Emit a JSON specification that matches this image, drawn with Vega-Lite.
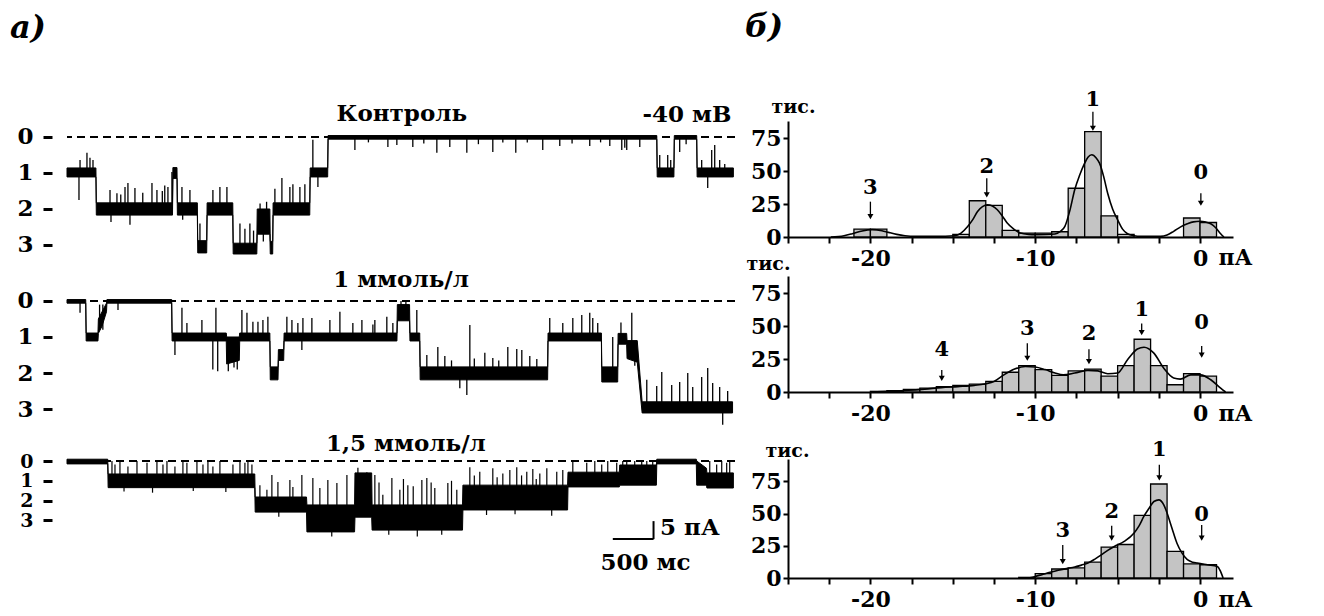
{
  "$schema": "https://vega.github.io/schema/vega-lite/v6.json",
  "background": "white",
  "padding": {"left": 10, "top": 11, "right": 5, "bottom": 5},
  "bounds": "flush",
  "columns": 2,
  "align": "each",
  "spacing": {"row": 25, "column": 53},
  "config": {
    "view": {"stroke": null},
    "axis": {"grid": false, "tickCount": 20, "labelFont": "DejaVu Serif", "labelFontWeight": "bold", "labelColor": "black", "titleFont": "DejaVu Serif", "titleFontWeight": "bold", "titleColor": "black", "domainColor": "black", "tickColor": "black"},
    "text": {"font": "DejaVu Serif", "fontWeight": "bold", "color": "black"}
  },
  "datasets": {
    "trace": [
      {"tr":1,"t":0,"lo":-11.1,"hi":-8.6},{"tr":1,"t":0.355,"lo":-11.1,"hi":-8.6},{"tr":1,"t":0.36,"lo":-21.7,"hi":-18.3},{"tr":1,"t":1.295,"lo":-21.7,"hi":-18.3},{"tr":1,"t":1.3,"lo":-11.5,"hi":-8.5},{"tr":1,"t":1.35,"lo":-11.5,"hi":-8.5},{"tr":1,"t":1.355,"lo":-21.7,"hi":-18.3},{"tr":1,"t":1.6,"lo":-21.7,"hi":-18.3},{"tr":1,"t":1.605,"lo":-32.2,"hi":-28.8},{"tr":1,"t":1.715,"lo":-32.2,"hi":-28.8},{"tr":1,"t":1.72,"lo":-21.7,"hi":-18.3},{"tr":1,"t":2.035,"lo":-21.7,"hi":-18.3},{"tr":1,"t":2.04,"lo":-32.5,"hi":-29.5},{"tr":1,"t":2.33,"lo":-32.5,"hi":-29.5},{"tr":1,"t":2.335,"lo":-27,"hi":-20},{"tr":1,"t":2.49,"lo":-27,"hi":-20},{"tr":1,"t":2.495,"lo":-32.5,"hi":-29},{"tr":1,"t":2.525,"lo":-32.5,"hi":-29},{"tr":1,"t":2.53,"lo":-21.7,"hi":-18.3},{"tr":1,"t":2.98,"lo":-21.7,"hi":-18.3},{"tr":1,"t":2.985,"lo":-11.1,"hi":-8.6},{"tr":1,"t":3.2,"lo":-11.1,"hi":-8.6},{"tr":1,"t":3.205,"lo":-0.6,"hi":0.4},{"tr":1,"t":7.24,"lo":-0.6,"hi":0.4},{"tr":1,"t":7.245,"lo":-11.1,"hi":-8.6},{"tr":1,"t":7.45,"lo":-11.1,"hi":-8.6},{"tr":1,"t":7.455,"lo":-0.6,"hi":0.4},{"tr":1,"t":7.73,"lo":-0.6,"hi":0.4},{"tr":1,"t":7.735,"lo":-11.1,"hi":-8.6},{"tr":1,"t":8.18,"lo":-11.1,"hi":-8.6},
      {"tr":2,"t":0,"lo":-0.6,"hi":0.4},{"tr":2,"t":0.23,"lo":-0.6,"hi":0.4},{"tr":2,"t":0.235,"lo":-11.1,"hi":-8.9},{"tr":2,"t":0.38,"lo":-11.1,"hi":-8.9},{"tr":2,"t":0.385,"lo":-9,"hi":-5},{"tr":2,"t":0.43,"lo":-7,"hi":-3},{"tr":2,"t":0.485,"lo":-3,"hi":-0.6},{"tr":2,"t":0.49,"lo":-0.6,"hi":0.4},{"tr":2,"t":1.285,"lo":-0.6,"hi":0.4},{"tr":2,"t":1.29,"lo":-11.1,"hi":-8.9},{"tr":2,"t":1.955,"lo":-11.1,"hi":-8.9},{"tr":2,"t":1.96,"lo":-17.5,"hi":-10},{"tr":2,"t":2.115,"lo":-16.5,"hi":-10},{"tr":2,"t":2.12,"lo":-11.1,"hi":-8.9},{"tr":2,"t":2.49,"lo":-11.1,"hi":-8.9},{"tr":2,"t":2.495,"lo":-21.9,"hi":-18.3},{"tr":2,"t":2.59,"lo":-21.9,"hi":-18.3},{"tr":2,"t":2.595,"lo":-16.5,"hi":-13.5},{"tr":2,"t":2.66,"lo":-16.5,"hi":-13.5},{"tr":2,"t":2.665,"lo":-11.1,"hi":-8.9},{"tr":2,"t":4.05,"lo":-11.1,"hi":-8.9},{"tr":2,"t":4.055,"lo":-5.5,"hi":-1},{"tr":2,"t":4.205,"lo":-5.5,"hi":-1},{"tr":2,"t":4.21,"lo":-11.1,"hi":-8.9},{"tr":2,"t":4.33,"lo":-11.1,"hi":-8.9},{"tr":2,"t":4.335,"lo":-21.9,"hi":-18.3},{"tr":2,"t":5.9,"lo":-21.9,"hi":-18.3},{"tr":2,"t":5.905,"lo":-11.1,"hi":-8.9},{"tr":2,"t":6.56,"lo":-11.1,"hi":-8.9},{"tr":2,"t":6.565,"lo":-22.5,"hi":-18.3},{"tr":2,"t":6.76,"lo":-22.5,"hi":-18.3},{"tr":2,"t":6.765,"lo":-12,"hi":-9},{"tr":2,"t":6.87,"lo":-12,"hi":-9},{"tr":2,"t":6.875,"lo":-16,"hi":-11},{"tr":2,"t":7.0,"lo":-17,"hi":-11},{"tr":2,"t":7.06,"lo":-31.1,"hi":-28},{"tr":2,"t":8.17,"lo":-31.1,"hi":-28},
      {"tr":3,"t":0,"lo":-0.8,"hi":0.5},{"tr":3,"t":0.5,"lo":-0.8,"hi":0.5},{"tr":3,"t":0.505,"lo":-7.4,"hi":-3.6},{"tr":3,"t":2.305,"lo":-7.4,"hi":-3.6},{"tr":3,"t":2.31,"lo":-14.2,"hi":-10},{"tr":3,"t":2.94,"lo":-14.2,"hi":-10},{"tr":3,"t":2.945,"lo":-19.7,"hi":-12.2},{"tr":3,"t":3.53,"lo":-19.7,"hi":-12.2},{"tr":3,"t":3.535,"lo":-15.6,"hi":-3.3},{"tr":3,"t":3.74,"lo":-15.6,"hi":-3.3},{"tr":3,"t":3.745,"lo":-19.2,"hi":-12.2},{"tr":3,"t":4.855,"lo":-19.2,"hi":-12.2},{"tr":3,"t":4.86,"lo":-13.6,"hi":-6.7},{"tr":3,"t":6.145,"lo":-13.6,"hi":-6.7},{"tr":3,"t":6.15,"lo":-7.2,"hi":-3.1},{"tr":3,"t":6.78,"lo":-7.2,"hi":-3.1},{"tr":3,"t":6.785,"lo":-6.7,"hi":-1.1},{"tr":3,"t":7.235,"lo":-6.7,"hi":-1.1},{"tr":3,"t":7.24,"lo":-0.8,"hi":0.5},{"tr":3,"t":7.725,"lo":-0.8,"hi":0.5},{"tr":3,"t":7.73,"lo":-6.7,"hi":0},{"tr":3,"t":7.85,"lo":-6.7,"hi":-2},{"tr":3,"t":7.855,"lo":-7.5,"hi":-3.3},{"tr":3,"t":8.18,"lo":-7.5,"hi":-3.3}
    ],
    "spikes": [
      {"tr":1,"t":0.147,"a":-10,"b":-17.5},{"tr":1,"t":0.16,"a":-10,"b":-6.4},{"tr":1,"t":0.245,"a":-10,"b":-4.4},{"tr":1,"t":0.282,"a":-10,"b":-5.8},{"tr":1,"t":0.319,"a":-10,"b":-6.4},{"tr":1,"t":0.528,"a":-20,"b":-14.7},{"tr":1,"t":0.54,"a":-20,"b":-23.6},{"tr":1,"t":0.613,"a":-20,"b":-15.6},{"tr":1,"t":0.66,"a":-20,"b":-16},{"tr":1,"t":0.712,"a":-20,"b":-13.9},{"tr":1,"t":0.748,"a":-20,"b":-12.8},{"tr":1,"t":0.773,"a":-20,"b":-24.4},{"tr":1,"t":0.834,"a":-20,"b":-14.2},{"tr":1,"t":0.93,"a":-20,"b":-15.5},{"tr":1,"t":1.043,"a":-20,"b":-12.8},{"tr":1,"t":1.104,"a":-20,"b":-14.7},{"tr":1,"t":1.17,"a":-20,"b":-15},{"tr":1,"t":1.2,"a":-20,"b":-13.5},{"tr":1,"t":1.239,"a":-20,"b":-13.9},{"tr":1,"t":1.288,"a":-20,"b":-9.7},{"tr":1,"t":1.411,"a":-20,"b":-13.9},{"tr":1,"t":1.42,"a":-20,"b":-23},{"tr":1,"t":1.509,"a":-20,"b":-14.7},{"tr":1,"t":1.632,"a":-31,"b":-24},{"tr":1,"t":1.791,"a":-20,"b":-14.7},{"tr":1,"t":1.877,"a":-20,"b":-13.9},{"tr":1,"t":1.963,"a":-20,"b":-13.9},{"tr":1,"t":2.123,"a":-31,"b":-24},{"tr":1,"t":2.184,"a":-31,"b":-25.5},{"tr":1,"t":2.245,"a":-31,"b":-24},{"tr":1,"t":2.29,"a":-31,"b":-26},{"tr":1,"t":2.37,"a":-24,"b":-18.5},{"tr":1,"t":2.41,"a":-24,"b":-29},{"tr":1,"t":2.45,"a":-24,"b":-18},{"tr":1,"t":2.552,"a":-20,"b":-14.4},{"tr":1,"t":2.638,"a":-20,"b":-11.4},{"tr":1,"t":2.736,"a":-20,"b":-13.9},{"tr":1,"t":2.773,"a":-20,"b":-13.1},{"tr":1,"t":2.859,"a":-20,"b":-13.9},{"tr":1,"t":2.92,"a":-20,"b":-13.1},{"tr":1,"t":3.018,"a":-10,"b":-0.8},{"tr":1,"t":3.08,"a":-10,"b":-13.9},{"tr":1,"t":3.534,"a":0,"b":-3.6},{"tr":1,"t":3.7,"a":0,"b":-1.5},{"tr":1,"t":3.939,"a":0,"b":-2.8},{"tr":1,"t":4.049,"a":0,"b":-2.2},{"tr":1,"t":4.245,"a":0,"b":-2.8},{"tr":1,"t":4.38,"a":0,"b":-1.8},{"tr":1,"t":4.54,"a":0,"b":-4.4},{"tr":1,"t":4.699,"a":0,"b":-2.8},{"tr":1,"t":4.908,"a":0,"b":-4.4},{"tr":1,"t":5.05,"a":0,"b":-2},{"tr":1,"t":5.227,"a":0,"b":-4.2},{"tr":1,"t":5.35,"a":0,"b":-1.5},{"tr":1,"t":5.509,"a":0,"b":-4.4},{"tr":1,"t":5.65,"a":0,"b":-1.5},{"tr":1,"t":5.84,"a":0,"b":-3.6},{"tr":1,"t":6.049,"a":0,"b":-2.5},{"tr":1,"t":6.2,"a":0,"b":-1.8},{"tr":1,"t":6.417,"a":0,"b":-2.5},{"tr":1,"t":6.55,"a":0,"b":-1.5},{"tr":1,"t":6.663,"a":0,"b":-2.5},{"tr":1,"t":6.81,"a":0,"b":-3.6},{"tr":1,"t":6.847,"a":0,"b":-3},{"tr":1,"t":6.871,"a":0,"b":-3.6},{"tr":1,"t":7.031,"a":0,"b":-2.8},{"tr":1,"t":7.276,"a":-10,"b":-5},{"tr":1,"t":7.374,"a":-10,"b":-5},{"tr":1,"t":7.411,"a":-10,"b":-6.4},{"tr":1,"t":7.521,"a":0,"b":-4.2},{"tr":1,"t":7.6,"a":0,"b":-2},{"tr":1,"t":7.791,"a":-10,"b":-6.4},{"tr":1,"t":7.865,"a":-10,"b":-14.2},{"tr":1,"t":7.914,"a":-10,"b":-3.6},{"tr":1,"t":7.951,"a":-10,"b":-2.2},{"tr":1,"t":8.012,"a":-10,"b":-6.4},{"tr":1,"t":8.074,"a":-10,"b":-7.5},
      {"tr":2,"t":0.16,"a":0,"b":-3.3},{"tr":2,"t":0.4,"a":-8,"b":-1},{"tr":2,"t":0.44,"a":-8,"b":-1},{"tr":2,"t":0.626,"a":0,"b":-2.5},{"tr":2,"t":1.325,"a":-10,"b":-15},{"tr":2,"t":1.411,"a":-10,"b":-1.9},{"tr":2,"t":1.472,"a":-10,"b":-6.1},{"tr":2,"t":1.656,"a":-10,"b":-5.3},{"tr":2,"t":1.79,"a":-10,"b":-19},{"tr":2,"t":1.828,"a":-10,"b":-1.9},{"tr":2,"t":1.85,"a":-10,"b":-19.5},{"tr":2,"t":1.98,"a":-10,"b":-19.5},{"tr":2,"t":2.05,"a":-10,"b":-18.5},{"tr":2,"t":2.09,"a":-10,"b":-19},{"tr":2,"t":2.147,"a":-10,"b":-2.5},{"tr":2,"t":2.209,"a":-10,"b":-3.3},{"tr":2,"t":2.282,"a":-10,"b":-5.8},{"tr":2,"t":2.344,"a":-10,"b":-5.8},{"tr":2,"t":2.405,"a":-10,"b":-5.3},{"tr":2,"t":2.466,"a":-10,"b":-4.4},{"tr":2,"t":2.699,"a":-10,"b":-4.4},{"tr":2,"t":2.761,"a":-10,"b":-5.3},{"tr":2,"t":2.834,"a":-10,"b":-6.1},{"tr":2,"t":2.883,"a":-10,"b":-13.6},{"tr":2,"t":2.896,"a":-10,"b":-4.7},{"tr":2,"t":3.006,"a":-10,"b":-4.7},{"tr":2,"t":3.227,"a":-10,"b":-5.3},{"tr":2,"t":3.35,"a":-10,"b":-3},{"tr":2,"t":3.509,"a":-10,"b":-6.1},{"tr":2,"t":3.62,"a":-10,"b":-5.3},{"tr":2,"t":3.755,"a":-10,"b":-6.5},{"tr":2,"t":3.779,"a":-10,"b":-5.3},{"tr":2,"t":3.926,"a":-10,"b":-4.4},{"tr":2,"t":4.0,"a":-10,"b":-6.1},{"tr":2,"t":4.1,"a":-3,"b":0},{"tr":2,"t":4.16,"a":-3,"b":0},{"tr":2,"t":4.294,"a":-10,"b":-2.5},{"tr":2,"t":4.417,"a":-20,"b":-15},{"tr":2,"t":4.552,"a":-20,"b":-12.8},{"tr":2,"t":4.638,"a":-20,"b":-15.3},{"tr":2,"t":4.72,"a":-20,"b":-16.5},{"tr":2,"t":4.822,"a":-20,"b":-24.2},{"tr":2,"t":4.908,"a":-20,"b":-26.1},{"tr":2,"t":4.945,"a":-20,"b":-6.7},{"tr":2,"t":5.0,"a":-20,"b":-16},{"tr":2,"t":5.129,"a":-20,"b":-14.4},{"tr":2,"t":5.227,"a":-20,"b":-15.8},{"tr":2,"t":5.3,"a":-20,"b":-16.5},{"tr":2,"t":5.411,"a":-20,"b":-12.8},{"tr":2,"t":5.521,"a":-20,"b":-13.3},{"tr":2,"t":5.583,"a":-20,"b":-13.6},{"tr":2,"t":5.681,"a":-20,"b":-15.3},{"tr":2,"t":5.767,"a":-20,"b":-16.1},{"tr":2,"t":5.926,"a":-10,"b":-4.7},{"tr":2,"t":6.086,"a":-10,"b":-6.1},{"tr":2,"t":6.209,"a":-10,"b":-4.7},{"tr":2,"t":6.319,"a":-10,"b":-3.9},{"tr":2,"t":6.417,"a":-10,"b":-3.3},{"tr":2,"t":6.454,"a":-10,"b":-4.7},{"tr":2,"t":6.515,"a":-10,"b":-6.1},{"tr":2,"t":6.699,"a":-20,"b":-10},{"tr":2,"t":6.8,"a":-10,"b":-6},{"tr":2,"t":6.933,"a":-13,"b":-3.3},{"tr":2,"t":6.97,"a":-13,"b":-18},{"tr":2,"t":7.117,"a":-30,"b":-21.9},{"tr":2,"t":7.239,"a":-30,"b":-23.6},{"tr":2,"t":7.301,"a":-30,"b":-19.7},{"tr":2,"t":7.423,"a":-30,"b":-23.3},{"tr":2,"t":7.521,"a":-30,"b":-22.5},{"tr":2,"t":7.62,"a":-30,"b":-20},{"tr":2,"t":7.681,"a":-30,"b":-23.9},{"tr":2,"t":7.791,"a":-30,"b":-21.1},{"tr":2,"t":7.865,"a":-30,"b":-18.6},{"tr":2,"t":7.926,"a":-30,"b":-22.8},{"tr":2,"t":8.012,"a":-30,"b":-23.9},{"tr":2,"t":8.049,"a":-30,"b":-34.4},{"tr":2,"t":8.11,"a":-30,"b":-25},
      {"tr":3,"t":0.552,"a":-5.5,"b":0},{"tr":3,"t":0.589,"a":-5.5,"b":-1},{"tr":3,"t":0.65,"a":-5.5,"b":0},{"tr":3,"t":0.7,"a":-5.5,"b":-8.5},{"tr":3,"t":0.748,"a":-5.5,"b":-1.5},{"tr":3,"t":0.859,"a":-5.5,"b":0},{"tr":3,"t":0.982,"a":-5.5,"b":-0.5},{"tr":3,"t":1.05,"a":-5.5,"b":-8.8},{"tr":3,"t":1.104,"a":-5.5,"b":0},{"tr":3,"t":1.178,"a":-5.5,"b":-1},{"tr":3,"t":1.227,"a":-5.5,"b":0},{"tr":3,"t":1.325,"a":-5.5,"b":-1.5},{"tr":3,"t":1.423,"a":-5.5,"b":0},{"tr":3,"t":1.472,"a":-5.5,"b":-0.5},{"tr":3,"t":1.55,"a":-5.5,"b":-8.3},{"tr":3,"t":1.595,"a":-5.5,"b":0},{"tr":3,"t":1.669,"a":-5.5,"b":-1},{"tr":3,"t":1.73,"a":-5.5,"b":0},{"tr":3,"t":1.791,"a":-5.5,"b":-1.5},{"tr":3,"t":1.877,"a":-5.5,"b":0},{"tr":3,"t":1.95,"a":-5.5,"b":-8.6},{"tr":3,"t":2.037,"a":-5.5,"b":-1},{"tr":3,"t":2.123,"a":-5.5,"b":0},{"tr":3,"t":2.184,"a":-5.5,"b":-0.5},{"tr":3,"t":2.221,"a":-5.5,"b":0},{"tr":3,"t":2.27,"a":-5.5,"b":-1},
      {"tr":3,"t":2.368,"a":-12,"b":-6.7},{"tr":3,"t":2.454,"a":-12,"b":-8},{"tr":3,"t":2.515,"a":-12,"b":-3.9},{"tr":3,"t":2.589,"a":-12,"b":-5.8},{"tr":3,"t":2.6,"a":-12,"b":-15.5},{"tr":3,"t":2.736,"a":-12,"b":-5.3},{"tr":3,"t":2.773,"a":-12,"b":-7.2},{"tr":3,"t":2.883,"a":-12,"b":-3.9},
      {"tr":3,"t":3.018,"a":-16,"b":-4.7},{"tr":3,"t":3.104,"a":-16,"b":-7.5},{"tr":3,"t":3.202,"a":-16,"b":-5.3},{"tr":3,"t":3.25,"a":-16,"b":-21},{"tr":3,"t":3.313,"a":-16,"b":-6.1},{"tr":3,"t":3.436,"a":-16,"b":-3.9},{"tr":3,"t":3.571,"a":-9,"b":-1.9},{"tr":3,"t":3.681,"a":-9,"b":-3.1},
      {"tr":3,"t":3.779,"a":-16,"b":-3.9},{"tr":3,"t":3.83,"a":-16,"b":-6},{"tr":3,"t":3.877,"a":-16,"b":-9.4},{"tr":3,"t":3.95,"a":-16,"b":-20.5},{"tr":3,"t":3.988,"a":-16,"b":-4.7},{"tr":3,"t":4.086,"a":-16,"b":-8},{"tr":3,"t":4.13,"a":-16,"b":-5},{"tr":3,"t":4.184,"a":-16,"b":-6.7},{"tr":3,"t":4.25,"a":-16,"b":-7},{"tr":3,"t":4.3,"a":-16,"b":-21},{"tr":3,"t":4.356,"a":-16,"b":-5.3},{"tr":3,"t":4.417,"a":-16,"b":-4.7},{"tr":3,"t":4.47,"a":-16,"b":-6},{"tr":3,"t":4.515,"a":-16,"b":-7.5},{"tr":3,"t":4.6,"a":-16,"b":-20.5},{"tr":3,"t":4.675,"a":-16,"b":-6.1},{"tr":3,"t":4.72,"a":-16,"b":-5.5},{"tr":3,"t":4.785,"a":-16,"b":-8},
      {"tr":3,"t":4.945,"a":-10,"b":-1.7},{"tr":3,"t":5.0,"a":-10,"b":-4},{"tr":3,"t":5.067,"a":-10,"b":-3},{"tr":3,"t":5.15,"a":-10,"b":-15},{"tr":3,"t":5.227,"a":-10,"b":-2},{"tr":3,"t":5.28,"a":-10,"b":-4.5},{"tr":3,"t":5.35,"a":-10,"b":-3.5},{"tr":3,"t":5.436,"a":-10,"b":-2.5},{"tr":3,"t":5.5,"a":-10,"b":-14.8},{"tr":3,"t":5.521,"a":-10,"b":-1.7},{"tr":3,"t":5.58,"a":-10,"b":-4},{"tr":3,"t":5.644,"a":-10,"b":-3},{"tr":3,"t":5.718,"a":-10,"b":-2.2},{"tr":3,"t":5.76,"a":-10,"b":-5},{"tr":3,"t":5.804,"a":-10,"b":-3.5},{"tr":3,"t":5.89,"a":-10,"b":-2},{"tr":3,"t":5.95,"a":-10,"b":-15.2},{"tr":3,"t":6.012,"a":-10,"b":-3},{"tr":3,"t":6.086,"a":-10,"b":-2.5},
      {"tr":3,"t":6.209,"a":-5,"b":0},{"tr":3,"t":6.38,"a":-5,"b":-0.5},{"tr":3,"t":6.479,"a":-5,"b":0},{"tr":3,"t":6.564,"a":-5,"b":-1},{"tr":3,"t":6.638,"a":-5,"b":0},{"tr":3,"t":6.748,"a":-5,"b":-0.5},
      {"tr":3,"t":6.822,"a":-4,"b":0},{"tr":3,"t":6.871,"a":-4,"b":0},{"tr":3,"t":6.969,"a":-4,"b":0},{"tr":3,"t":7.055,"a":-4,"b":0},{"tr":3,"t":7.117,"a":-4,"b":0},{"tr":3,"t":7.19,"a":-4,"b":0},
      {"tr":3,"t":7.89,"a":-5.5,"b":0},{"tr":3,"t":7.975,"a":-5.5,"b":-1},{"tr":3,"t":8.037,"a":-5.5,"b":0},{"tr":3,"t":8.098,"a":-5.5,"b":-0.5},{"tr":3,"t":8.135,"a":-5.5,"b":0}
    ],
    "hist": [
      {"p":1,"lo":-21,"hi":-20,"n":6},{"p":1,"lo":-20,"hi":-19,"n":6},{"p":1,"lo":-15,"hi":-14,"n":2},{"p":1,"lo":-14,"hi":-13,"n":27.5},{"p":1,"lo":-13,"hi":-12,"n":24},{"p":1,"lo":-12,"hi":-11,"n":5},{"p":1,"lo":-11,"hi":-10,"n":3},{"p":1,"lo":-10,"hi":-9,"n":3},{"p":1,"lo":-9,"hi":-8,"n":4},{"p":1,"lo":-8,"hi":-7,"n":37},{"p":1,"lo":-7,"hi":-6,"n":80},{"p":1,"lo":-6,"hi":-5,"n":16},{"p":1,"lo":-5,"hi":-4,"n":2},{"p":1,"lo":-1,"hi":0,"n":14.4},{"p":1,"lo":0,"hi":1,"n":11},
      {"p":2,"lo":-20,"hi":-19,"n":0.5},{"p":2,"lo":-19,"hi":-18,"n":1},{"p":2,"lo":-18,"hi":-17,"n":2},{"p":2,"lo":-17,"hi":-16,"n":3},{"p":2,"lo":-16,"hi":-15,"n":4},{"p":2,"lo":-15,"hi":-14,"n":5},{"p":2,"lo":-14,"hi":-13,"n":6},{"p":2,"lo":-13,"hi":-12,"n":8},{"p":2,"lo":-12,"hi":-11,"n":15},{"p":2,"lo":-11,"hi":-10,"n":20},{"p":2,"lo":-10,"hi":-9,"n":17},{"p":2,"lo":-9,"hi":-8,"n":12.6},{"p":2,"lo":-8,"hi":-7,"n":16},{"p":2,"lo":-7,"hi":-6,"n":17.4},{"p":2,"lo":-6,"hi":-5,"n":12},{"p":2,"lo":-5,"hi":-4,"n":20},{"p":2,"lo":-4,"hi":-3,"n":40},{"p":2,"lo":-3,"hi":-2,"n":20},{"p":2,"lo":-2,"hi":-1,"n":5.5},{"p":2,"lo":-1,"hi":0,"n":14},{"p":2,"lo":0,"hi":1,"n":12},
      {"p":3,"lo":-11,"hi":-10,"n":0.5},{"p":3,"lo":-10,"hi":-9,"n":3.4},{"p":3,"lo":-9,"hi":-8,"n":7},{"p":3,"lo":-8,"hi":-7,"n":7.8},{"p":3,"lo":-7,"hi":-6,"n":12.4},{"p":3,"lo":-6,"hi":-5,"n":24},{"p":3,"lo":-5,"hi":-4,"n":26},{"p":3,"lo":-4,"hi":-3,"n":48.6},{"p":3,"lo":-3,"hi":-2,"n":73},{"p":3,"lo":-2,"hi":-1,"n":20.7},{"p":3,"lo":-1,"hi":0,"n":11},{"p":3,"lo":0,"hi":1,"n":10.3}
    ],
    "fit": [
      {"p":1,"x":-22.4,"n":0},{"p":1,"x":-21.6,"n":1},{"p":1,"x":-21.1,"n":2.5},{"p":1,"x":-20.5,"n":4.6},{"p":1,"x":-19.9,"n":5.6},{"p":1,"x":-19.3,"n":4.8},{"p":1,"x":-18.9,"n":3.5},{"p":1,"x":-18.4,"n":2},{"p":1,"x":-17.9,"n":1},{"p":1,"x":-17.3,"n":0.5},{"p":1,"x":-16,"n":0.5},{"p":1,"x":-14.9,"n":1},{"p":1,"x":-14.5,"n":3},{"p":1,"x":-14.1,"n":8},{"p":1,"x":-13.8,"n":13},{"p":1,"x":-13.5,"n":19.4},{"p":1,"x":-13.2,"n":23},{"p":1,"x":-12.9,"n":24.5},{"p":1,"x":-12.6,"n":23.5},{"p":1,"x":-12.3,"n":20.7},{"p":1,"x":-12,"n":16},{"p":1,"x":-11.7,"n":10.6},{"p":1,"x":-11.3,"n":6},{"p":1,"x":-10.9,"n":3},{"p":1,"x":-10.4,"n":2},{"p":1,"x":-10,"n":1.8},{"p":1,"x":-9.4,"n":1.9},{"p":1,"x":-8.8,"n":2.3},{"p":1,"x":-8.5,"n":4},{"p":1,"x":-8.2,"n":8},{"p":1,"x":-7.9,"n":20},{"p":1,"x":-7.6,"n":36},{"p":1,"x":-7.3,"n":47},{"p":1,"x":-7,"n":56},{"p":1,"x":-6.8,"n":60.5},{"p":1,"x":-6.57,"n":62.4},{"p":1,"x":-6.3,"n":60},{"p":1,"x":-6.1,"n":56},{"p":1,"x":-5.85,"n":46},{"p":1,"x":-5.6,"n":33},{"p":1,"x":-5.3,"n":21},{"p":1,"x":-5,"n":13},{"p":1,"x":-4.7,"n":6},{"p":1,"x":-4.4,"n":2.5},{"p":1,"x":-4,"n":1},{"p":1,"x":-3.6,"n":0.5},{"p":1,"x":-2.4,"n":0.5},{"p":1,"x":-2,"n":1.5},{"p":1,"x":-1.6,"n":4.3},{"p":1,"x":-1.2,"n":7.5},{"p":1,"x":-0.77,"n":10},{"p":1,"x":-0.4,"n":11.5},{"p":1,"x":0,"n":11.9},{"p":1,"x":0.35,"n":11.3},{"p":1,"x":0.65,"n":10},{"p":1,"x":0.95,"n":7},{"p":1,"x":1.25,"n":2.5},{"p":1,"x":1.45,"n":0},
      {"p":2,"x":-20,"n":0},{"p":2,"x":-18.8,"n":0.6},{"p":2,"x":-17.7,"n":1.3},{"p":2,"x":-16.7,"n":2.2},{"p":2,"x":-15.7,"n":3.3},{"p":2,"x":-14.7,"n":4.1},{"p":2,"x":-13.7,"n":5},{"p":2,"x":-13,"n":6.3},{"p":2,"x":-12.5,"n":8},{"p":2,"x":-11.9,"n":13},{"p":2,"x":-11.25,"n":17.4},{"p":2,"x":-10.6,"n":19.4},{"p":2,"x":-10,"n":19},{"p":2,"x":-9.4,"n":17},{"p":2,"x":-8.8,"n":14.4},{"p":2,"x":-8.3,"n":13},{"p":2,"x":-7.6,"n":14.4},{"p":2,"x":-6.8,"n":16.4},{"p":2,"x":-6.2,"n":16},{"p":2,"x":-5.6,"n":13.9},{"p":2,"x":-5,"n":14.4},{"p":2,"x":-4.4,"n":24.5},{"p":2,"x":-3.8,"n":32.6},{"p":2,"x":-3.4,"n":34},{"p":2,"x":-2.8,"n":29.5},{"p":2,"x":-2.2,"n":18},{"p":2,"x":-1.6,"n":10.6},{"p":2,"x":-1.2,"n":9.8},{"p":2,"x":-0.56,"n":13},{"p":2,"x":0.04,"n":13},{"p":2,"x":0.65,"n":9.3},{"p":2,"x":1.25,"n":3},{"p":2,"x":1.55,"n":0},
      {"p":3,"x":-10.4,"n":0},{"p":3,"x":-10,"n":1.2},{"p":3,"x":-9.6,"n":2.6},{"p":3,"x":-9.1,"n":4.4},{"p":3,"x":-8.6,"n":6},{"p":3,"x":-8.1,"n":7.3},{"p":3,"x":-7.6,"n":8.5},{"p":3,"x":-7.2,"n":10},{"p":3,"x":-6.8,"n":11.6},{"p":3,"x":-6.4,"n":14.5},{"p":3,"x":-6,"n":18},{"p":3,"x":-5.6,"n":21.5},{"p":3,"x":-5.2,"n":24.5},{"p":3,"x":-4.6,"n":28.4},{"p":3,"x":-4,"n":35},{"p":3,"x":-3.7,"n":40.5},{"p":3,"x":-3.4,"n":48},{"p":3,"x":-3.1,"n":54},{"p":3,"x":-2.8,"n":59.4},{"p":3,"x":-2.5,"n":60.7},{"p":3,"x":-2.2,"n":56.8},{"p":3,"x":-2,"n":50.5},{"p":3,"x":-1.8,"n":42.6},{"p":3,"x":-1.6,"n":34.5},{"p":3,"x":-1.4,"n":27},{"p":3,"x":-1.1,"n":19.5},{"p":3,"x":-0.77,"n":14.2},{"p":3,"x":-0.45,"n":12.3},{"p":3,"x":-0.16,"n":11.6},{"p":3,"x":0.44,"n":10.3},{"p":3,"x":1.05,"n":9},{"p":3,"x":1.25,"n":5},{"p":3,"x":1.4,"n":0}
    ],
    "peaks": [
      {"p":1,"x":-20,"lab":"3","yt":37,"top":26.8,"tip":15.4},{"p":1,"x":-12.94,"lab":"2","yt":53.3,"top":44.5,"tip":31.9},{"p":1,"x":-6.5,"lab":"1","yt":104,"top":95,"tip":82.5},{"p":1,"x":0.05,"lab":"0","yt":48.3,"top":33.2,"tip":25.6},
      {"p":2,"x":-15.67,"lab":"4","yt":31.9,"top":16.7,"tip":10.4},{"p":2,"x":-10.48,"lab":"3","yt":47.8,"top":36.9,"tip":25.6},{"p":2,"x":-6.74,"lab":"2","yt":44,"top":32.4,"tip":23},{"p":2,"x":-3.54,"lab":"1","yt":62.2,"top":52,"tip":45},{"p":2,"x":0.1,"lab":"0","yt":52,"top":34.9,"tip":28},
      {"p":3,"x":-8.33,"lab":"3","yt":36.2,"top":25.6,"tip":12.7},{"p":3,"x":-5.36,"lab":"2","yt":51.6,"top":40.5,"tip":30.9},{"p":3,"x":-2.47,"lab":"1","yt":99.6,"top":88,"tip":77.7},{"p":3,"x":0.1,"lab":"0","yt":49,"top":41.2,"tip":30.9}
    ]
  },
  "concat": [
    {
      "width": 668, "height": 130,
      "layer": [
        {"data": {"values": [{}]}, "mark": {"type": "rule", "strokeDash": [8, 5], "strokeWidth": 2, "color": "black"},
         "encoding": {"y": {"datum": 0, "type": "quantitative", "scale": {"domain": [-31.67, 4.44], "nice": false, "zero": false}}}},
        {"data": {"name": "trace"}, "transform": [{"filter": "datum.tr == 1"}],
         "mark": {"type": "area", "color": "black", "stroke": "black", "strokeWidth": 1},
         "encoding": {
           "x": {"field": "t", "type": "quantitative", "scale": {"domain": [0, 8.2], "nice": false, "zero": false}, "axis": null},
           "y": {"field": "lo", "type": "quantitative", "scale": {"domain": [-31.67, 4.44], "nice": false, "zero": false},
                 "axis": {"orient": "left", "offset": 15, "values": [0, -10, -20, -30], "labelExpr": "'' + round(-datum.value / 10)", "domain": false, "ticks": true, "tickSize": 9, "tickWidth": 3, "labelPadding": 10, "labelFontSize": 23, "labelOverlap": false, "labelFlush": false, "labelBaseline": "middle", "title": null}},
           "y2": {"field": "hi"}}},
        {"data": {"name": "spikes"}, "transform": [{"filter": "datum.tr == 1"}],
         "mark": {"type": "rule", "color": "black", "strokeWidth": 1.3},
         "encoding": {
           "x": {"field": "t", "type": "quantitative", "scale": {"domain": [0, 8.2], "nice": false, "zero": false}, "axis": null},
           "y": {"field": "a", "type": "quantitative", "scale": {"domain": [-31.67, 4.44], "nice": false, "zero": false}},
           "y2": {"field": "b"}}},
        {"data": {"values": [{"t": 4.11, "i": 6.4, "s": "Контроль"}, {"t": 7.61, "i": 6.2, "s": "-40 мВ"}]},
         "mark": {"type": "text", "fontSize": 23, "align": "center", "baseline": "middle"},
         "encoding": {
           "x": {"field": "t", "type": "quantitative", "scale": {"domain": [0, 8.2], "nice": false, "zero": false}, "axis": null},
           "y": {"field": "i", "type": "quantitative", "scale": {"domain": [-31.67, 4.44], "nice": false, "zero": false}},
           "text": {"field": "s"}}},
        {"data": {"values": [{"t": -0.699, "i": 30.4, "s": "а)"}]},
         "mark": {"type": "text", "fontSize": 32, "fontStyle": "italic", "align": "left", "baseline": "middle"},
         "encoding": {
           "x": {"field": "t", "type": "quantitative", "scale": {"domain": [0, 8.2], "nice": false, "zero": false}, "axis": null},
           "y": {"field": "i", "type": "quantitative", "scale": {"domain": [-31.67, 4.44], "nice": false, "zero": false}},
           "text": {"field": "s"}}}
      ]
    },
    {
      "width": 445, "height": 116,
      "layer": [
        {"data": {"name": "hist"}, "transform": [{"filter": "datum.p == 1"}],
         "mark": {"type": "rect", "fill": "#c4c4c4", "stroke": "black", "strokeWidth": 1.3},
         "encoding": {
           "x": {"field": "lo", "type": "quantitative", "scale": {"domain": [-25, 2], "nice": false, "zero": false},
                 "axis": {"orient": "bottom", "values": [-25, -22.5, -20, -17.5, -15, -12.5, -10, -7.5, -5, -2.5, 0], "labelExpr": "datum.value % 10 == 0 ? '' + datum.value : ''", "tickSize": 6, "tickWidth": 2, "domainWidth": 2, "labelPadding": 5, "labelFontSize": 22, "labelOverlap": false, "labelFlush": false, "title": "пА", "titleX": 430, "titleY": 20, "titleAlign": "left", "titleAngle": 0, "titleBaseline": "middle", "titleFontSize": 22}},
           "x2": {"field": "hi"},
           "y": {"field": "n", "type": "quantitative", "scale": {"domain": [0, 88], "nice": false, "zero": false},
                 "axis": {"orient": "left", "values": [0, 25, 50, 75], "labelExpr": "'' + datum.value", "tickSize": 5, "tickWidth": 2, "domainWidth": 2, "labelPadding": 2, "labelFontSize": 22, "labelOverlap": false, "labelFlush": false, "labelBaseline": "middle", "title": "тис.", "titleX": 5, "titleY": -15, "titleAngle": 0, "titleAlign": "center", "titleBaseline": "middle", "titleFontSize": 19}},
           "y2": {"datum": 0}}},
        {"data": {"name": "fit"}, "transform": [{"filter": "datum.p == 1"}],
         "mark": {"type": "line", "color": "black", "strokeWidth": 1.6, "interpolate": "monotone"},
         "encoding": {
           "x": {"field": "x", "type": "quantitative", "scale": {"domain": [-25, 2], "nice": false, "zero": false}},
           "y": {"field": "n", "type": "quantitative", "scale": {"domain": [0, 88], "nice": false, "zero": false}}}},
        {"data": {"name": "peaks"}, "transform": [{"filter": "datum.p == 1"}],
         "mark": {"type": "rule", "color": "black", "strokeWidth": 1.3},
         "encoding": {
           "x": {"field": "x", "type": "quantitative", "scale": {"domain": [-25, 2], "nice": false, "zero": false}},
           "y": {"field": "top", "type": "quantitative", "scale": {"domain": [0, 88], "nice": false, "zero": false}},
           "y2": {"field": "tip"}}},
        {"data": {"name": "peaks"}, "transform": [{"filter": "datum.p == 1"}],
         "mark": {"type": "point", "shape": "triangle-down", "filled": true, "size": 36, "color": "black", "opacity": 1},
         "encoding": {
           "x": {"field": "x", "type": "quantitative", "scale": {"domain": [-25, 2], "nice": false, "zero": false}},
           "y": {"field": "tip", "type": "quantitative", "scale": {"domain": [0, 88], "nice": false, "zero": false}}}},
        {"data": {"name": "peaks"}, "transform": [{"filter": "datum.p == 1"}],
         "mark": {"type": "text", "fontSize": 21, "align": "center", "baseline": "middle"},
         "encoding": {
           "x": {"field": "x", "type": "quantitative", "scale": {"domain": [-25, 2], "nice": false, "zero": false}},
           "y": {"field": "yt", "type": "quantitative", "scale": {"domain": [0, 88], "nice": false, "zero": false}},
           "text": {"field": "lab"}}},
        {"data": {"values": [{"x": -27.61, "y": 159, "s": "б)"}]},
         "mark": {"type": "text", "fontSize": 32, "fontStyle": "italic", "align": "left", "baseline": "middle"},
         "encoding": {
           "x": {"field": "x", "type": "quantitative", "scale": {"domain": [-25, 2], "nice": false, "zero": false}},
           "y": {"field": "y", "type": "quantitative", "scale": {"domain": [0, 88], "nice": false, "zero": false}},
           "text": {"field": "s"}}}
      ]
    },
    {
      "width": 668, "height": 158,
      "layer": [
        {"data": {"values": [{}]}, "mark": {"type": "rule", "strokeDash": [8, 5], "strokeWidth": 2, "color": "black"},
         "encoding": {"y": {"datum": 0, "type": "quantitative", "scale": {"domain": [-36.94, 6.94], "nice": false, "zero": false}}}},
        {"data": {"name": "trace"}, "transform": [{"filter": "datum.tr == 2"}],
         "mark": {"type": "area", "color": "black", "stroke": "black", "strokeWidth": 1},
         "encoding": {
           "x": {"field": "t", "type": "quantitative", "scale": {"domain": [0, 8.2], "nice": false, "zero": false}, "axis": null},
           "y": {"field": "lo", "type": "quantitative", "scale": {"domain": [-36.94, 6.94], "nice": false, "zero": false},
                 "axis": {"orient": "left", "offset": 15, "values": [0, -10, -20, -30], "labelExpr": "'' + round(-datum.value / 10)", "domain": false, "ticks": true, "tickSize": 9, "tickWidth": 3, "labelPadding": 10, "labelFontSize": 23, "labelOverlap": false, "labelFlush": false, "labelBaseline": "middle", "title": null}},
           "y2": {"field": "hi"}}},
        {"data": {"name": "spikes"}, "transform": [{"filter": "datum.tr == 2"}],
         "mark": {"type": "rule", "color": "black", "strokeWidth": 1.3},
         "encoding": {
           "x": {"field": "t", "type": "quantitative", "scale": {"domain": [0, 8.2], "nice": false, "zero": false}, "axis": null},
           "y": {"field": "a", "type": "quantitative", "scale": {"domain": [-36.94, 6.94], "nice": false, "zero": false}},
           "y2": {"field": "b"}}},
        {"data": {"values": [{"t": 4.1, "i": 5.83, "s": "1 ммоль/л"}]},
         "mark": {"type": "text", "fontSize": 23, "align": "center", "baseline": "middle"},
         "encoding": {
           "x": {"field": "t", "type": "quantitative", "scale": {"domain": [0, 8.2], "nice": false, "zero": false}, "axis": null},
           "y": {"field": "i", "type": "quantitative", "scale": {"domain": [-36.94, 6.94], "nice": false, "zero": false}},
           "text": {"field": "s"}}}
      ]
    },
    {
      "width": 445, "height": 116,
      "layer": [
        {"data": {"name": "hist"}, "transform": [{"filter": "datum.p == 2"}],
         "mark": {"type": "rect", "fill": "#c4c4c4", "stroke": "black", "strokeWidth": 1.3},
         "encoding": {
           "x": {"field": "lo", "type": "quantitative", "scale": {"domain": [-25, 2], "nice": false, "zero": false},
                 "axis": {"orient": "bottom", "values": [-25, -22.5, -20, -17.5, -15, -12.5, -10, -7.5, -5, -2.5, 0], "labelExpr": "datum.value % 10 == 0 ? '' + datum.value : ''", "tickSize": 6, "tickWidth": 2, "domainWidth": 2, "labelPadding": 5, "labelFontSize": 22, "labelOverlap": false, "labelFlush": false, "title": "пА", "titleX": 430, "titleY": 21, "titleAlign": "left", "titleAngle": 0, "titleBaseline": "middle", "titleFontSize": 22}},
           "x2": {"field": "hi"},
           "y": {"field": "n", "type": "quantitative", "scale": {"domain": [0, 88], "nice": false, "zero": false},
                 "axis": {"orient": "left", "values": [0, 25, 50, 75], "labelExpr": "'' + datum.value", "tickSize": 5, "tickWidth": 2, "domainWidth": 2, "labelPadding": 2, "labelFontSize": 22, "labelOverlap": false, "labelFlush": false, "labelBaseline": "middle", "title": "тис.", "titleX": -20, "titleY": -13, "titleAngle": 0, "titleAlign": "center", "titleBaseline": "middle", "titleFontSize": 19}},
           "y2": {"datum": 0}}},
        {"data": {"name": "fit"}, "transform": [{"filter": "datum.p == 2"}],
         "mark": {"type": "line", "color": "black", "strokeWidth": 1.6, "interpolate": "monotone"},
         "encoding": {
           "x": {"field": "x", "type": "quantitative", "scale": {"domain": [-25, 2], "nice": false, "zero": false}},
           "y": {"field": "n", "type": "quantitative", "scale": {"domain": [0, 88], "nice": false, "zero": false}}}},
        {"data": {"name": "peaks"}, "transform": [{"filter": "datum.p == 2"}],
         "mark": {"type": "rule", "color": "black", "strokeWidth": 1.3},
         "encoding": {
           "x": {"field": "x", "type": "quantitative", "scale": {"domain": [-25, 2], "nice": false, "zero": false}},
           "y": {"field": "top", "type": "quantitative", "scale": {"domain": [0, 88], "nice": false, "zero": false}},
           "y2": {"field": "tip"}}},
        {"data": {"name": "peaks"}, "transform": [{"filter": "datum.p == 2"}],
         "mark": {"type": "point", "shape": "triangle-down", "filled": true, "size": 36, "color": "black", "opacity": 1},
         "encoding": {
           "x": {"field": "x", "type": "quantitative", "scale": {"domain": [-25, 2], "nice": false, "zero": false}},
           "y": {"field": "tip", "type": "quantitative", "scale": {"domain": [0, 88], "nice": false, "zero": false}}}},
        {"data": {"name": "peaks"}, "transform": [{"filter": "datum.p == 2"}],
         "mark": {"type": "text", "fontSize": 21, "align": "center", "baseline": "middle"},
         "encoding": {
           "x": {"field": "x", "type": "quantitative", "scale": {"domain": [-25, 2], "nice": false, "zero": false}},
           "y": {"field": "yt", "type": "quantitative", "scale": {"domain": [0, 88], "nice": false, "zero": false}},
           "text": {"field": "lab"}}}
      ]
    },
    {
      "width": 668, "height": 121,
      "layer": [
        {"data": {"values": [{}]}, "mark": {"type": "rule", "strokeDash": [8, 5], "strokeWidth": 2, "color": "black"},
         "encoding": {"y": {"datum": 0, "type": "quantitative", "scale": {"domain": [-33.06, 0.56], "nice": false, "zero": false}}}},
        {"data": {"name": "trace"}, "transform": [{"filter": "datum.tr == 3"}],
         "mark": {"type": "area", "color": "black", "stroke": "black", "strokeWidth": 1},
         "encoding": {
           "x": {"field": "t", "type": "quantitative", "scale": {"domain": [0, 8.2], "nice": false, "zero": false}, "axis": null},
           "y": {"field": "lo", "type": "quantitative", "scale": {"domain": [-33.06, 0.56], "nice": false, "zero": false},
                 "axis": {"orient": "left", "offset": 15, "values": [0, -5.5, -11, -16.5], "labelExpr": "'' + round(-datum.value / 5.5)", "domain": false, "ticks": true, "tickSize": 9, "tickWidth": 3, "labelPadding": 10, "labelFontSize": 19, "labelOverlap": false, "labelFlush": false, "labelBaseline": "middle", "title": null}},
           "y2": {"field": "hi"}}},
        {"data": {"name": "spikes"}, "transform": [{"filter": "datum.tr == 3"}],
         "mark": {"type": "rule", "color": "black", "strokeWidth": 1.2},
         "encoding": {
           "x": {"field": "t", "type": "quantitative", "scale": {"domain": [0, 8.2], "nice": false, "zero": false}, "axis": null},
           "y": {"field": "a", "type": "quantitative", "scale": {"domain": [-33.06, 0.56], "nice": false, "zero": false}},
           "y2": {"field": "b"}}},
        {"data": {"values": [{"t": 6.7, "t2": 7.2, "i": -21.7, "i2": -21.7}, {"t": 7.2, "t2": 7.2, "i": -21.7, "i2": -16.7}]},
         "mark": {"type": "rule", "color": "black", "strokeWidth": 2},
         "encoding": {
           "x": {"field": "t", "type": "quantitative", "scale": {"domain": [0, 8.2], "nice": false, "zero": false}, "axis": null},
           "x2": {"field": "t2"},
           "y": {"field": "i", "type": "quantitative", "scale": {"domain": [-33.06, 0.56], "nice": false, "zero": false}},
           "y2": {"field": "i2"}}},
        {"data": {"values": [{"t": 4.16, "i": 4.72, "s": "1,5 ммоль/л"}, {"t": 7.1, "i": -28.3, "s": "500 мс"}]},
         "mark": {"type": "text", "fontSize": 23, "align": "center", "baseline": "middle"},
         "encoding": {
           "x": {"field": "t", "type": "quantitative", "scale": {"domain": [0, 8.2], "nice": false, "zero": false}, "axis": null},
           "y": {"field": "i", "type": "quantitative", "scale": {"domain": [-33.06, 0.56], "nice": false, "zero": false}},
           "text": {"field": "s"}}},
        {"data": {"values": [{"t": 7.28, "i": -18.6, "s": "5 пА"}]},
         "mark": {"type": "text", "fontSize": 23, "align": "left", "baseline": "middle"},
         "encoding": {
           "x": {"field": "t", "type": "quantitative", "scale": {"domain": [0, 8.2], "nice": false, "zero": false}, "axis": null},
           "y": {"field": "i", "type": "quantitative", "scale": {"domain": [-33.06, 0.56], "nice": false, "zero": false}},
           "text": {"field": "s"}}}
      ]
    },
    {
      "width": 445, "height": 119,
      "layer": [
        {"data": {"name": "hist"}, "transform": [{"filter": "datum.p == 3"}],
         "mark": {"type": "rect", "fill": "#c4c4c4", "stroke": "black", "strokeWidth": 1.3},
         "encoding": {
           "x": {"field": "lo", "type": "quantitative", "scale": {"domain": [-25, 2], "nice": false, "zero": false},
                 "axis": {"orient": "bottom", "values": [-25, -22.5, -20, -17.5, -15, -12.5, -10, -7.5, -5, -2.5, 0], "labelExpr": "datum.value % 10 == 0 ? '' + datum.value : ''", "tickSize": 6, "tickWidth": 2, "domainWidth": 2, "labelPadding": 5, "labelFontSize": 22, "labelOverlap": false, "labelFlush": false, "title": "пА", "titleX": 430, "titleY": 21, "titleAlign": "left", "titleAngle": 0, "titleBaseline": "middle", "titleFontSize": 22}},
           "x2": {"field": "hi"},
           "y": {"field": "n", "type": "quantitative", "scale": {"domain": [0, 92.4], "nice": false, "zero": false},
                 "axis": {"orient": "left", "values": [0, 25, 50, 75], "labelExpr": "'' + datum.value", "tickSize": 5, "tickWidth": 2, "domainWidth": 2, "labelPadding": 2, "labelFontSize": 22, "labelOverlap": false, "labelFlush": false, "labelBaseline": "middle", "title": "тис.", "titleX": -1, "titleY": -9, "titleAngle": 0, "titleAlign": "center", "titleBaseline": "middle", "titleFontSize": 19}},
           "y2": {"datum": 0}}},
        {"data": {"name": "fit"}, "transform": [{"filter": "datum.p == 3"}],
         "mark": {"type": "line", "color": "black", "strokeWidth": 1.6, "interpolate": "monotone"},
         "encoding": {
           "x": {"field": "x", "type": "quantitative", "scale": {"domain": [-25, 2], "nice": false, "zero": false}},
           "y": {"field": "n", "type": "quantitative", "scale": {"domain": [0, 92.4], "nice": false, "zero": false}}}},
        {"data": {"name": "peaks"}, "transform": [{"filter": "datum.p == 3"}],
         "mark": {"type": "rule", "color": "black", "strokeWidth": 1.3},
         "encoding": {
           "x": {"field": "x", "type": "quantitative", "scale": {"domain": [-25, 2], "nice": false, "zero": false}},
           "y": {"field": "top", "type": "quantitative", "scale": {"domain": [0, 92.4], "nice": false, "zero": false}},
           "y2": {"field": "tip"}}},
        {"data": {"name": "peaks"}, "transform": [{"filter": "datum.p == 3"}],
         "mark": {"type": "point", "shape": "triangle-down", "filled": true, "size": 36, "color": "black", "opacity": 1},
         "encoding": {
           "x": {"field": "x", "type": "quantitative", "scale": {"domain": [-25, 2], "nice": false, "zero": false}},
           "y": {"field": "tip", "type": "quantitative", "scale": {"domain": [0, 92.4], "nice": false, "zero": false}}}},
        {"data": {"name": "peaks"}, "transform": [{"filter": "datum.p == 3"}],
         "mark": {"type": "text", "fontSize": 21, "align": "center", "baseline": "middle"},
         "encoding": {
           "x": {"field": "x", "type": "quantitative", "scale": {"domain": [-25, 2], "nice": false, "zero": false}},
           "y": {"field": "yt", "type": "quantitative", "scale": {"domain": [0, 92.4], "nice": false, "zero": false}},
           "text": {"field": "lab"}}}
      ]
    }
  ]
}
